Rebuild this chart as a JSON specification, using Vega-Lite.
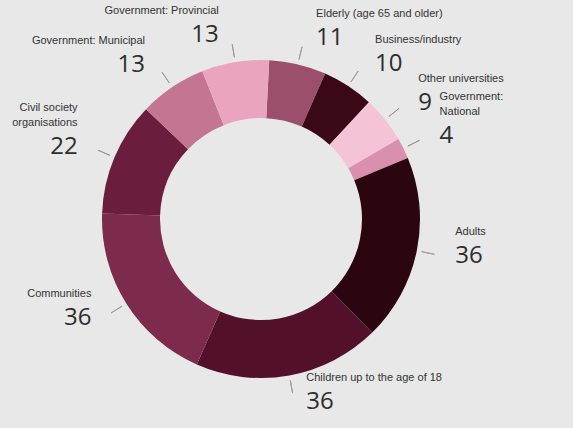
{
  "$schema": "https://vega.github.io/schema/vega-lite/v6.json",
  "width": 522,
  "height": 418,
  "autosize": {"type": "none"},
  "padding": {"left": 0, "top": 10, "right": 51, "bottom": 0},
  "background": "#e7e8e7",
  "config": {"view": {"stroke": null}},
  "data": {
    "values": [
      {"ord": 1, "cat": "Elderly (age 65 and older)", "l1": "", "l2": "Elderly (age 65 and older)", "n": 11},
      {"ord": 2, "cat": "Business/industry", "l1": "", "l2": "Business/industry", "n": 10},
      {"ord": 3, "cat": "Other universities", "l1": "", "l2": "Other universities", "n": 9},
      {"ord": 4, "cat": "Government: National", "l1": "Government:", "l2": "National", "n": 4},
      {"ord": 5, "cat": "Adults", "l1": "", "l2": "Adults", "n": 36},
      {"ord": 6, "cat": "Children up to the age of 18", "l1": "", "l2": "Children up to the age of 18", "n": 36},
      {"ord": 7, "cat": "Communities", "l1": "", "l2": "Communities", "n": 36},
      {"ord": 8, "cat": "Civil society organisations", "l1": "Civil society", "l2": "organisations", "n": 22},
      {"ord": 9, "cat": "Government: Municipal", "l1": "", "l2": "Government: Municipal", "n": 13},
      {"ord": 10, "cat": "Government: Provincial", "l1": "", "l2": "Government: Provincial", "n": 13}
    ]
  },
  "encoding": {
    "theta": {"field": "n", "type": "quantitative", "stack": true, "scale": {"range": [0.052, 6.335]}},
    "order": {"field": "ord", "type": "quantitative", "sort": "ascending"}
  },
  "layer": [
    {
      "mark": {"type": "arc", "outerRadius": 159, "innerRadius": 101},
      "encoding": {
        "color": {
          "field": "cat", "type": "nominal", "legend": null,
          "scale": {
            "domain": ["Elderly (age 65 and older)", "Business/industry", "Other universities", "Government: National", "Adults", "Children up to the age of 18", "Communities", "Civil society organisations", "Government: Municipal", "Government: Provincial"],
            "range": ["#9c4f6a", "#3b0817", "#f5c3d6", "#d98fae", "#2b0510", "#52102b", "#7d2b4d", "#6b1d3d", "#c37592", "#eba4bd"]
          }
        }
      }
    },
    {
      "mark": {"type": "arc", "outerRadius": 177, "innerRadius": 164, "padAngle": 3, "fill": "transparent", "stroke": "#9a9a9a", "strokeWidth": 1}
    },
    {
      "mark": {"type": "text", "align": "left", "baseline": "middle", "dx": 12, "radius": 186, "fontSize": 24, "font": "Open Sans", "color": "#2d2d2d"},
      "encoding": {"text": {"condition": {"test": "datum.ord <= 6", "field": "n", "type": "quantitative"}, "value": ""}}
    },
    {
      "mark": {"type": "text", "align": "right", "baseline": "middle", "dx": -12, "radius": 186, "fontSize": 24, "font": "Open Sans", "color": "#2d2d2d"},
      "encoding": {"text": {"condition": {"test": "datum.ord > 6", "field": "n", "type": "quantitative"}, "value": ""}}
    },
    {
      "mark": {"type": "text", "align": "left", "baseline": "middle", "dx": 12, "dy": -24, "radius": 186, "fontSize": 11, "font": "Liberation Sans", "color": "#333333"},
      "encoding": {"text": {"condition": {"test": "datum.ord <= 6", "field": "l2", "type": "nominal"}, "value": ""}}
    },
    {
      "mark": {"type": "text", "align": "left", "baseline": "middle", "dx": 12, "dy": -39, "radius": 186, "fontSize": 11, "font": "Liberation Sans", "color": "#333333"},
      "encoding": {"text": {"condition": {"test": "datum.ord <= 6", "field": "l1", "type": "nominal"}, "value": ""}}
    },
    {
      "mark": {"type": "text", "align": "right", "baseline": "middle", "dx": -12, "dy": -24, "radius": 186, "fontSize": 11, "font": "Liberation Sans", "color": "#333333"},
      "encoding": {"text": {"condition": {"test": "datum.ord > 6", "field": "l2", "type": "nominal"}, "value": ""}}
    },
    {
      "mark": {"type": "text", "align": "right", "baseline": "middle", "dx": -12, "dy": -39, "radius": 186, "fontSize": 11, "font": "Liberation Sans", "color": "#333333"},
      "encoding": {"text": {"condition": {"test": "datum.ord > 6", "field": "l1", "type": "nominal"}, "value": ""}}
    }
  ]
}
